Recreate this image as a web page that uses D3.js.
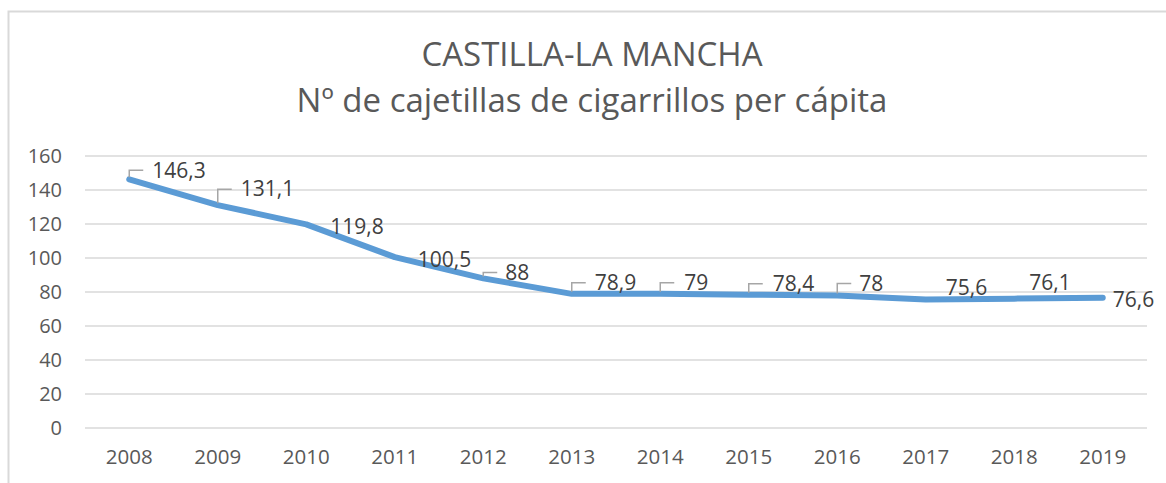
<!DOCTYPE html>
<html><head><meta charset="utf-8">
<script src="https://cdn.jsdelivr.net/npm/d3@7"></script>
<style>html,body{margin:0;padding:0;background:#fff;}svg{display:block;}</style>
</head><body>
<svg id="c" width="1166" height="483"></svg>
<script>
const years = ["2008","2009","2010","2011","2012","2013","2014","2015","2016","2017","2018","2019"];
const values = [146.3,131.1,119.8,100.5,88,78.9,79,78.4,78,75.6,76.1,76.6];
const yTicks = [0,20,40,60,80,100,120,140,160];
const titleLines = ["CASTILLA-LA MANCHA","Nº de cajetillas de cigarrillos per cápita"];
// label nudges relative to each point (dx, dy) and whether a leader line is drawn
const labelDx = [23,23,24,23,22,23,24,24,22,20,15,10];
const labelDy = [-9,-16,2,2,-6,-11,-11,-11,-12,-12,-16,2];
const leader = [1,1,0,0,1,1,1,1,1,0,0,0];

const svg = d3.select("#c");
const font = "'Open Sans', sans-serif";
const grey = "#595959";

// border
svg.append("path").attr("d","M8.5,483 V11.5 H1166").attr("fill","none").attr("stroke","#d9d9d9").attr("stroke-width",2);

// title
svg.selectAll("text.title").data(titleLines).enter().append("text")
  .attr("x",592).attr("y",(d,i)=>66+i*46)
  .attr("text-anchor","middle").attr("fill",grey)
  .style("font-family",font).style("font-size","33px").text(d=>d);

const x = d3.scaleBand().domain(years).range([85,1147]);
const y = d3.scaleLinear().domain([0,160]).range([428,156]);

// grid
svg.append("g").selectAll("line").data(yTicks).enter().append("line")
  .attr("x1",85).attr("x2",1147).attr("y1",d=>y(d)).attr("y2",d=>y(d))
  .attr("stroke","#d9d9d9").attr("stroke-width",1.5);

// y axis
const yAxis = svg.append("g").attr("transform","translate(62,0)")
  .call(d3.axisLeft(y).tickValues(yTicks).tickSize(0).tickPadding(0).tickFormat(d3.format("d")));
yAxis.select(".domain").remove();
yAxis.selectAll("text").attr("fill",grey).style("font-family",font).style("font-size","20px");

// x axis
const xAxis = svg.append("g").attr("transform","translate(0,428)")
  .call(d3.axisBottom(x).tickSize(0).tickPadding(21));
xAxis.select(".domain").remove();
xAxis.selectAll("text").attr("fill",grey).style("font-family",font).style("font-size","20.5px");

const cx = i => x(years[i]) + x.bandwidth()/2;

// line
const line = d3.line().x((d,i)=>cx(i)).y(d=>y(d));
svg.append("path").datum(values).attr("d",line)
  .attr("fill","none").attr("stroke","#5b9bd5").attr("stroke-width",6)
  .attr("stroke-linecap","round").attr("stroke-linejoin","round");

// leaders
values.forEach((v,i)=>{
  if(!leader[i]) return;
  const px = cx(i), py = y(v), ly = py + labelDy[i];
  svg.append("path").attr("d",`M${px},${py-2} V${ly} H${px+14}`)
    .attr("fill","none").attr("stroke","#a6a6a6").attr("stroke-width",1.5);
});

// labels
const fmt = v => String(v).replace(".",",");
svg.append("g").selectAll("text").data(values).enter().append("text")
  .attr("x",(d,i)=>cx(i)+labelDx[i]).attr("y",(d,i)=>y(d)+labelDy[i])
  .attr("dy","0.35em").attr("fill","#404040")
  .style("font-family",font).style("font-size","21px").text(fmt);
</script>
</body></html>
